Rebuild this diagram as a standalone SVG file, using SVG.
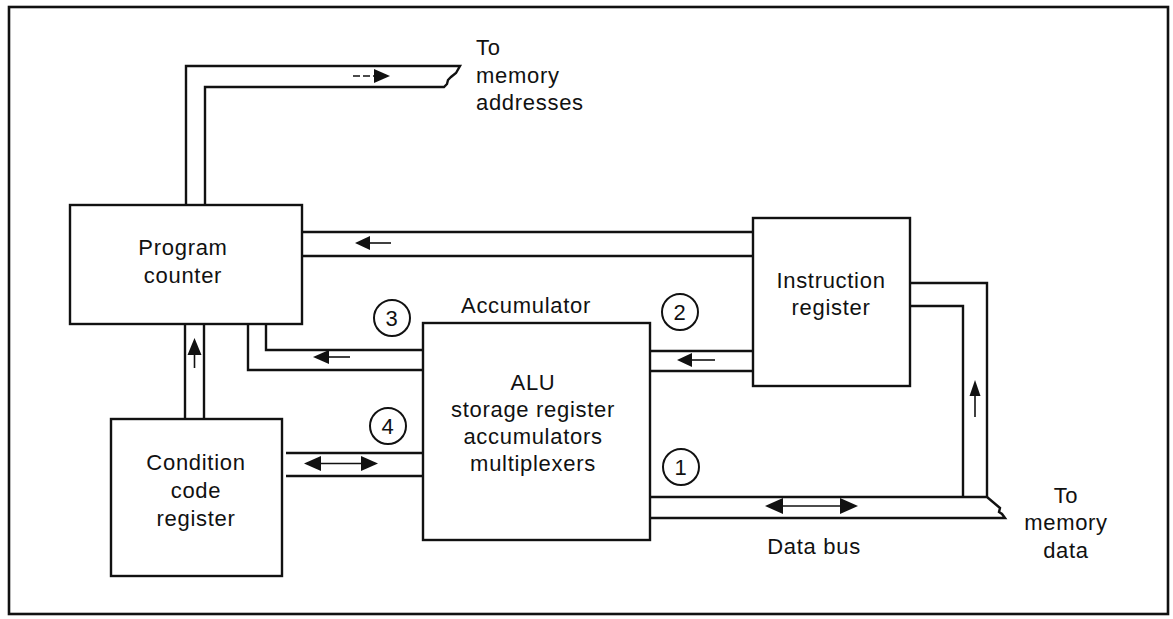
<svg xmlns="http://www.w3.org/2000/svg" width="1173" height="619" viewBox="0 0 1173 619">
<style>
.box{fill:#fff;stroke:#111;stroke-width:2.4}
.ln{fill:none;stroke:#111;stroke-width:2.4;stroke-linejoin:miter}
.sh{fill:none;stroke:#111;stroke-width:1.6}
.hd{fill:#111;stroke:none}
.t{font-family:"Liberation Sans",Arial,Helvetica,sans-serif;font-size:22px;letter-spacing:0.7px;fill:#111}
.m{text-anchor:middle}
.c{fill:#fff;stroke:#111;stroke-width:2}
</style>
<rect x="9" y="7" width="1159" height="607" fill="#fff" stroke="#111" stroke-width="2.6"/>

<g id="connectors">
  <!-- PC to memory addresses -->
  <path class="ln" d="M186,205 V66 H460 L456,73 L451,77 L448,80 L447,84 L444,87 H205 V205"/>
  <line class="sh" x1="353" y1="76" x2="375" y2="76" stroke-dasharray="7,3"/>
  <path class="hd" d="M390,76 L374,69 L374,83 Z"/>
  <!-- IR to PC -->
  <line class="ln" x1="302" y1="232" x2="753" y2="232"/>
  <line class="ln" x1="302" y1="256" x2="753" y2="256"/>
  <line class="sh" x1="368" y1="243" x2="391" y2="243"/>
  <path class="hd" d="M355,243 L370,236 L370,250 Z"/>
  <!-- ALU to PC (3) -->
  <path class="ln" d="M266,324 V350 H423"/>
  <path class="ln" d="M248,324 V370 H423"/>
  <line class="sh" x1="327" y1="357" x2="350" y2="357"/>
  <path class="hd" d="M313,357 L329,350 L329,364 Z"/>
  <!-- IR to ALU (2) -->
  <line class="ln" x1="650" y1="351" x2="753" y2="351"/>
  <line class="ln" x1="650" y1="371" x2="753" y2="371"/>
  <line class="sh" x1="690" y1="360" x2="715" y2="360"/>
  <path class="hd" d="M677,360 L692,353 L692,367 Z"/>
  <!-- CCR to PC -->
  <line class="ln" x1="185" y1="324" x2="185" y2="419"/>
  <line class="ln" x1="204" y1="324" x2="204" y2="419"/>
  <line class="sh" x1="194.5" y1="352" x2="194.5" y2="368"/>
  <path class="hd" d="M194.5,338 L187.5,355 L201.5,355 Z"/>
  <!-- CCR <-> ALU (4) -->
  <line class="ln" x1="286" y1="453" x2="423" y2="453"/>
  <line class="ln" x1="286" y1="476" x2="423" y2="476"/>
  <line class="sh" x1="318" y1="463.5" x2="364" y2="463.5"/>
  <path class="hd" d="M304,463.5 L321,456 L321,471 Z"/>
  <path class="hd" d="M378,463.5 L361,456 L361,471 Z"/>
  <!-- Data bus (1) and IR feed -->
  <path class="ln" d="M650,497 H987 L1000,508 L999,512 L1002,514 L1005,518 H650"/>
  <path class="ln" d="M910,283 H987 V497"/>
  <path class="ln" d="M910,306 H963 V497"/>
  <line class="sh" x1="780" y1="506" x2="843" y2="506"/>
  <path class="hd" d="M765,506 L783,498 L783,514 Z"/>
  <path class="hd" d="M858,506 L840,498 L840,514 Z"/>
  <line class="sh" x1="975" y1="392" x2="975" y2="417"/>
  <path class="hd" d="M975,380 L969.5,396 L980.5,396 Z"/>
</g>

<g id="program-counter">
  <rect class="box" x="70" y="205" width="232" height="119"/>
  <text class="t m" x="183" y="255">Program</text>
  <text class="t m" x="183" y="283">counter</text>
</g>

<g id="instruction-register">
  <rect class="box" x="753" y="218" width="157" height="168"/>
  <text class="t m" x="831" y="288">Instruction</text>
  <text class="t m" x="831" y="315">register</text>
</g>

<g id="alu">
  <rect class="box" x="423" y="323" width="227" height="217"/>
  <text class="t m" x="526" y="313">Accumulator</text>
  <text class="t m" x="533" y="390">ALU</text>
  <text class="t m" x="533" y="417">storage register</text>
  <text class="t m" x="533" y="444">accumulators</text>
  <text class="t m" x="533" y="471">multiplexers</text>
</g>

<g id="condition-code-register">
  <rect class="box" x="111" y="419" width="171" height="157"/>
  <text class="t m" x="196" y="470">Condition</text>
  <text class="t m" x="196" y="498">code</text>
  <text class="t m" x="196" y="526">register</text>
</g>

<g id="label-1">
  <circle class="c" cx="681" cy="467" r="18"/>
  <text class="t m" x="681" y="475">1</text>
</g>
<g id="label-2">
  <circle class="c" cx="680" cy="312" r="18"/>
  <text class="t m" x="680" y="320">2</text>
</g>
<g id="label-3">
  <circle class="c" cx="392" cy="318" r="18"/>
  <text class="t m" x="392" y="326">3</text>
</g>
<g id="label-4">
  <circle class="c" cx="388" cy="426" r="18"/>
  <text class="t m" x="388" y="434">4</text>
</g>

<g id="memory-addresses">
  <text class="t" x="476" y="55">To</text>
  <text class="t" x="476" y="83">memory</text>
  <text class="t" x="476" y="110">addresses</text>
</g>

<g id="memory-data">
  <text class="t m" x="1066" y="503">To</text>
  <text class="t m" x="1066" y="530">memory</text>
  <text class="t m" x="1066" y="558">data</text>
</g>

<g id="data-bus-label">
  <text class="t m" x="814" y="554">Data bus</text>
</g>
</svg>
